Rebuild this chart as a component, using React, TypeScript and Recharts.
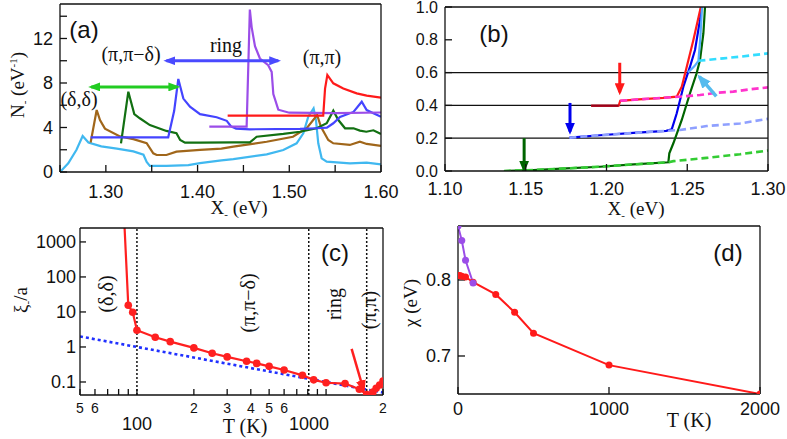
import React from 'react';
import { LineChart, Line, XAxis, YAxis, ReferenceLine } from 'recharts';

type P = [number, number][];

// ---------------- Panel (a): N_(X) spectra ----------------
const A_X_TICKS = [1.25, 1.3, 1.35, 1.4, 1.45, 1.5, 1.55, 1.6];
const A_Y_TICKS = [0, 2, 4, 6, 8, 10, 12, 14];
const aCyan: P = [[1.25, 0], [1.259, 0.78], [1.268, 2.0], [1.2747, 3.24], [1.281, 2.65], [1.295, 2.3], [1.312, 2.1], [1.33, 1.85], [1.341, 1.55], [1.3445, 0.9], [1.348, 0.55], [1.366, 0.55], [1.39, 0.62], [1.4026, 0.8], [1.426, 1.05], [1.439, 1.15], [1.4754, 1.59], [1.4935, 1.98], [1.508, 2.58], [1.5153, 3.48], [1.5207, 4.97], [1.5265, 5.72], [1.5291, 4.67], [1.5316, 2.58], [1.5353, 1.23], [1.5408, 0.93], [1.5662, 0.78], [1.5844, 0.84], [1.6, 0.69]];
const aBrown: P = [[1.2834, 2.65], [1.29, 5.57], [1.2936, 4.67], [1.299, 3.9], [1.3154, 3.2], [1.33, 2.95], [1.3445, 2.6], [1.3517, 1.68], [1.3554, 1.53], [1.366, 1.53], [1.377, 1.83], [1.4027, 1.98], [1.426, 2.1], [1.439, 2.28], [1.4753, 2.72], [1.504, 3.17], [1.519, 3.93], [1.5304, 5.12], [1.5345, 4.07], [1.5425, 2.88], [1.548, 2.58], [1.566, 2.43], [1.577, 2.72], [1.5844, 2.52], [1.6, 2.34]];
const aDarkGreen: P = [[1.3165, 2.58], [1.3245, 7.22], [1.331, 5.2], [1.337, 4.83], [1.348, 4.22], [1.366, 3.69], [1.377, 3.48], [1.381, 2.88], [1.3863, 2.64], [1.4027, 2.64], [1.439, 2.67], [1.457, 2.67], [1.4645, 3.17], [1.4935, 3.42], [1.5117, 3.62], [1.53, 3.93], [1.5408, 4.38], [1.548, 5.51], [1.5535, 4.67], [1.5608, 3.93], [1.57, 3.93], [1.577, 3.72], [1.584, 3.62], [1.5917, 3.75], [1.6, 3.42]];
const aBlue: P = [[1.2834, 3.12], [1.368, 3.12], [1.3745, 5.5], [1.379, 8.36], [1.3845, 6.6], [1.3917, 5.87], [1.4027, 5.2], [1.4208, 4.92], [1.4318, 4.6], [1.4365, 4.1], [1.442, 3.9], [1.457, 3.84], [1.5117, 3.87], [1.53, 3.93], [1.541, 3.98], [1.548, 4.38], [1.5553, 4.95], [1.57, 5.4], [1.579, 6.32], [1.5844, 5.57], [1.5917, 5.28], [1.6, 4.97]];
const aPurple: P = [[1.4128, 4.07], [1.4535, 4.07], [1.457, 14.6], [1.459, 13.0], [1.4626, 11.3], [1.468, 10.2], [1.477, 9.6], [1.4808, 9.0], [1.4826, 7.0], [1.488, 5.6], [1.5, 5.33], [1.55, 5.3], [1.6, 5.35]];
const aRed: P = [[1.4328, 5.06], [1.537, 5.06], [1.539, 7.5], [1.5415, 8.72], [1.548, 7.97], [1.5589, 7.5], [1.5735, 7.07], [1.5844, 6.86], [1.6, 6.68]];
const aGreenSpan: P = [[1.284, 7.65], [1.378, 7.65]];
const aBlueSpan: P = [[1.366, 10.0], [1.488, 10.0]];

// ---------------- Panel (b): integrated curves ----------------
const B_X_TICKS = [1.1, 1.15, 1.2, 1.25, 1.3];
const B_Y_TICKS = [0, 0.2, 0.4, 0.6, 0.8, 1.0];
const B_LEVELS = [0.2, 0.4, 0.6];
const bMaroon: P = [[1.1905, 0.398], [1.2075, 0.398]];
const bRed: P = [[1.1905, 0.398], [1.2075, 0.398], [1.2085, 0.428], [1.22, 0.437], [1.235, 0.446], [1.2435, 0.453], [1.2466, 0.514], [1.2497, 0.636], [1.2538, 0.799], [1.2584, 1.0]];
const bMagenta: P = [[1.2085, 0.428], [1.22, 0.437], [1.235, 0.446], [1.2476, 0.455], [1.2579, 0.463], [1.268, 0.477], [1.2785, 0.484], [1.2889, 0.498], [1.3, 0.51]];
const bBlue: P = [[1.177, 0.203], [1.196, 0.218], [1.2166, 0.232], [1.237, 0.245], [1.2404, 0.254], [1.2435, 0.352], [1.2476, 0.514], [1.2517, 0.636], [1.2548, 0.738], [1.2579, 0.921], [1.2588, 1.0]];
const bLightBlue: P = [[1.177, 0.203], [1.196, 0.218], [1.2166, 0.232], [1.237, 0.245], [1.2455, 0.25], [1.262, 0.274], [1.2827, 0.29], [1.3, 0.318]];
const bSky: P = [[1.2505, 0.6], [1.2545, 0.64], [1.2569, 0.672], [1.258, 0.8], [1.2592, 1.0]];
const bCyan: P = [[1.2569, 0.672], [1.2723, 0.687], [1.2827, 0.697], [1.3, 0.717]];
const bDarkGreen: P = [[1.1365, 0.0], [1.1547, 0.006], [1.1753, 0.016], [1.196, 0.026], [1.2166, 0.04], [1.2383, 0.053], [1.2389, 0.108], [1.2414, 0.169], [1.2466, 0.311], [1.2517, 0.474], [1.2558, 0.596], [1.2579, 0.677], [1.26, 0.84], [1.261, 1.0]];
const bLightGreen: P = [[1.1365, 0.0], [1.1547, 0.006], [1.1753, 0.016], [1.196, 0.026], [1.2166, 0.04], [1.2383, 0.053], [1.2414, 0.06], [1.262, 0.08], [1.2827, 0.102], [1.3, 0.125]];
const bRedArrow: P = [[1.2082, 0.66], [1.2082, 0.48]];
const bBlueArrow: P = [[1.1774, 0.415], [1.1774, 0.24]];
const bGreenArrow: P = [[1.149, 0.2], [1.149, 0.008]];
const bSkyArrow: P = [[1.268, 0.455], [1.2575, 0.575]];

// ---------------- Panel (c): xi/a vs T ----------------
const C_X_TICKS = [50, 60, 70, 80, 90, 100, 200, 300, 400, 500, 600, 700, 800, 900, 1000, 2000];
const C_MINOR_LABELS: Record<number, string> = { 50: '5', 60: '6', 200: '2', 300: '3', 400: '4', 500: '5', 600: '6', 2000: '2' };
const C_MAJOR_LABELS: Record<number, string> = { 100: '100', 1000: '1000' };
const C_Y_TICKS = [0.1, 1, 10, 100, 1000];
const C_BOUNDARIES = [100, 810, 1640];
const cT = [85, 90, 95, 100, 125, 150, 200, 250, 300, 380, 430, 500, 600, 750, 860, 1000, 1260, 1500, 1640, 1770, 1840, 1920, 2000];
const cXi = [10000, 15.5, 9.8, 3.0, 1.9, 1.42, 0.94, 0.66, 0.52, 0.39, 0.34, 0.28, 0.22, 0.155, 0.115, 0.095, 0.09, 0.062, 0.044, 0.052, 0.066, 0.082, 0.107];
const cFitT = [50, 2000];
const cFitXi = [2.0, 0.05];
const cArrow: P = [[1365, 0.88], [1580, 0.058]];

// ---------------- Panel (d): chi vs T ----------------
const D_X_TICKS = [0, 1000, 2000];
const D_Y_TICKS = [0.7, 0.8];
const dRedT = [0, 12, 25, 50, 100, 250, 375, 500, 1000, 2000];
const dRedChi = [0.806, 0.806, 0.805, 0.804, 0.797, 0.781, 0.7575, 0.73, 0.688, 0.65];
const dPurpleT = [0, 25, 50, 100];
const dPurpleChi = [0.871, 0.852, 0.826, 0.796];

// ---------------- helpers ----------------
const SANS = '"Liberation Sans", Arial, Helvetica, sans-serif';
const SERIF = '"Liberation Serif", "Times New Roman", Times, serif';
const INK = '#111111';
const AX = { stroke: INK, strokeWidth: 1.3 };
const TICK = { fontFamily: SANS, fontSize: 18, fill: INK };
const TICK_B_Y = { fontFamily: SANS, fontSize: 16, fill: INK };

const toPts = (a: P) => a.map(([x, y]) => ({ x, y }));
const zip = (xs: number[], ys: number[]) => xs.map((x, i) => ({ x, y: ys[i] }));

function marker(id: string, color: string, len = 12, w = 9) {
  return (
    <marker key={id} id={id} markerUnits="userSpaceOnUse" markerWidth={len} markerHeight={w}
      viewBox={`0 0 ${len} ${w}`} refX={len - 3} refY={w / 2} orient="auto-start-reverse">
      <path d={`M0,0 L${len},${w / 2} L0,${w} Z`} fill={color} />
    </marker>
  );
}

function curve(key: string, data: { x: number; y: number }[], color: string, width = 2.2, extra: any = {}) {
  return (
    <Line key={key} data={data} dataKey="y" type="linear" stroke={color} strokeWidth={width}
      dot={false} activeDot={false} isAnimationActive={false} legendType="none" {...extra} />
  );
}

function cTick(props: any) {
  const { x, y, payload } = props;
  const v = payload.value;
  if (C_MINOR_LABELS[v]) {
    return <text x={x} y={y} dy={10} textAnchor="middle" fontFamily={SANS} fontSize={14} fill={INK}>{C_MINOR_LABELS[v]}</text>;
  }
  if (C_MAJOR_LABELS[v]) {
    return <text x={x} y={y} dy={27} dx={v === 1000 ? -17 : 0} textAnchor="middle" fontFamily={SANS} fontSize={18} fill={INK}>{C_MAJOR_LABELS[v]}</text>;
  }
  return <g />;
}

const serifText = (x: number, y: number, children: React.ReactNode, size = 20, rotate = false) =>
  rotate ? (
    <text x={-y} y={x} transform="rotate(-90)" textAnchor="middle" fontFamily={SERIF} fontSize={size} fill={INK}>{children}</text>
  ) : (
    <text x={x} y={y} textAnchor="middle" fontFamily={SERIF} fontSize={size} fill={INK}>{children}</text>
  );

const panelTag = (x: number, y: number, s: string) => (
  <text x={x} y={y} textAnchor="middle" fontFamily={SANS} fontSize={24} fill={INK}>{s}</text>
);

const sub = (s: string) => <tspan fontSize={11} dy={4}>{s}</tspan>;

// ---------------- panels ----------------
function PanelA() {
  return (
    <LineChart width={400} height={225} margin={{ top: 3, right: 18, bottom: 0, left: 0 }}>
      <defs>
        {marker('mkAg', '#22cc22')}
        {marker('mkAb', '#4a4aff')}
      </defs>
      <XAxis dataKey="x" type="number" domain={[1.25, 1.6]} allowDataOverflow ticks={A_X_TICKS} interval={0}
        tickFormatter={(v: number) => (Math.round(v * 100) % 10 === 0 ? v.toFixed(2) : '')}
        height={53} tickSize={-7} tickMargin={20} axisLine={AX} tickLine={AX} tick={TICK} />
      <XAxis xAxisId="top" orientation="top" type="number" domain={[1.25, 1.6]} allowDataOverflow ticks={A_X_TICKS}
        interval={0} height={1} tickSize={-7} tick={false} axisLine={AX} tickLine={AX} />
      <YAxis type="number" domain={[0, 15.1]} allowDataOverflow ticks={A_Y_TICKS} interval={0}
        tickFormatter={(v: number) => (v % 4 === 0 ? String(v) : '')}
        width={60} tickSize={-7} tickMargin={14} axisLine={AX} tickLine={AX} tick={TICK} />
      <YAxis yAxisId="right" orientation="right" type="number" domain={[0, 15.1]} allowDataOverflow ticks={A_Y_TICKS}
        interval={0} width={1} tickSize={-7} tick={false} axisLine={AX} tickLine={AX} />
      {curve('cy', toPts(aCyan), '#40b8f0')}
      {curve('br', toPts(aBrown), '#a0661a')}
      {curve('dg', toPts(aDarkGreen), '#127012')}
      {curve('bl', toPts(aBlue), '#4444ff')}
      {curve('pu', toPts(aPurple), '#9b4de8')}
      {curve('rd', toPts(aRed), '#ff1a1a')}
      {curve('ga', toPts(aGreenSpan), '#22cc22', 3, { markerStart: 'url(#mkAg)', markerEnd: 'url(#mkAg)' })}
      {curve('ba', toPts(aBlueSpan), '#4a4aff', 3, { markerStart: 'url(#mkAb)', markerEnd: 'url(#mkAb)' })}
      {panelTag(84, 38, '(a)')}
      {serifText(79, 106, '(δ,δ)')}
      {serifText(131, 61, '(π,π−δ)')}
      {serifText(226, 52, 'ring')}
      {serifText(322, 64, '(π,π)')}
      {serifText(239, 214, <>X{sub('-')}<tspan dy={-4}> (eV)</tspan></>, 19)}
      <text x={-85} y={24} transform="rotate(-90)" textAnchor="middle" fontFamily={SERIF} fontSize={19} fill={INK}>
        N{sub('-')}<tspan dy={-4}> (eV</tspan><tspan fontSize={11} dy={-7}>-1</tspan><tspan dy={7}>)</tspan>
      </text>
    </LineChart>
  );
}

function PanelB() {
  return (
    <LineChart width={387} height={225} margin={{ top: 6, right: 18, bottom: 0, left: 0 }}>
      <defs>
        {marker('mkBr', '#ff1a1a', 12, 10)}
        {marker('mkBb', '#0000ee', 12, 10)}
        {marker('mkBg', '#006400', 12, 10)}
        {marker('mkBs', '#55bbee', 14, 11)}
      </defs>
      <XAxis dataKey="x" type="number" domain={[1.1, 1.3]} allowDataOverflow ticks={B_X_TICKS} interval={0}
        tickFormatter={(v: number) => v.toFixed(2)}
        height={54} tickSize={-7} tickMargin={18} axisLine={AX} tickLine={AX} tick={TICK} />
      <XAxis xAxisId="top" orientation="top" type="number" domain={[1.1, 1.3]} allowDataOverflow ticks={B_X_TICKS}
        interval={0} height={1} tickSize={-7} tick={false} axisLine={AX} tickLine={AX} />
      <YAxis type="number" domain={[0, 1]} allowDataOverflow ticks={B_Y_TICKS} interval={0}
        tickFormatter={(v: number) => v.toFixed(1)}
        width={45} tickSize={-7} tickMargin={14} axisLine={AX} tickLine={AX} tick={TICK_B_Y} />
      <YAxis yAxisId="right" orientation="right" type="number" domain={[0, 1]} allowDataOverflow ticks={B_Y_TICKS}
        interval={0} width={1} tickSize={-7} tick={false} axisLine={AX} tickLine={AX} />
      {B_LEVELS.map((v) => (
        <ReferenceLine key={'lv' + v} y={v} stroke={INK} strokeWidth={1.3} />
      ))}
      {curve('dg', toPts(bDarkGreen), '#006400')}
      {curve('lg', toPts(bLightGreen), '#33cc33', 2.6, { strokeDasharray: '7 4' })}
      {curve('bl', toPts(bBlue), '#0000ee')}
      {curve('lb', toPts(bLightBlue), '#8fa0ff', 2.6, { strokeDasharray: '7 4' })}
      {curve('rd', toPts(bRed), '#ff1a1a')}
      {curve('mr', toPts(bMaroon), '#99001a')}
      {curve('mg', toPts(bMagenta), '#ff33cc', 2.6, { strokeDasharray: '7 4' })}
      {curve('sk', toPts(bSky), '#55aaff')}
      {curve('cy', toPts(bCyan), '#33ddff', 2.6, { strokeDasharray: '7 4' })}
      {curve('ar', toPts(bRedArrow), '#ff1a1a', 3, { markerEnd: 'url(#mkBr)' })}
      {curve('ab', toPts(bBlueArrow), '#0000ee', 3, { markerEnd: 'url(#mkBb)' })}
      {curve('ag', toPts(bGreenArrow), '#006400', 3, { markerEnd: 'url(#mkBg)' })}
      {curve('as', toPts(bSkyArrow), '#55bbee', 3.5, { markerEnd: 'url(#mkBs)' })}
      {panelTag(94, 42, '(b)')}
      {serifText(236, 215, <>X{sub('-')}<tspan dy={-4}> (eV)</tspan></>, 19)}
    </LineChart>
  );
}

function PanelC() {
  return (
    <LineChart width={400} height={224} margin={{ top: 12, right: 16, bottom: 0, left: 0 }}>
      <defs>{marker('mkCr', '#ff2020', 13, 10)}</defs>
      <XAxis dataKey="x" type="number" scale="log" domain={[50, 2000]} allowDataOverflow ticks={C_X_TICKS} interval={0}
        height={44} tickSize={-6} tickMargin={14} axisLine={AX} tickLine={AX} tick={cTick} />
      <XAxis xAxisId="top" orientation="top" type="number" scale="log" domain={[50, 2000]} allowDataOverflow ticks={[100, 1000]}
        interval={0} height={1} tickLine={false} tick={false} axisLine={AX} />
      <YAxis type="number" scale="log" domain={[0.0425, 2500]} allowDataOverflow ticks={C_Y_TICKS} interval={0}
        tickFormatter={(v: number) => String(v)}
        width={80} tickSize={-6} tickMargin={10} axisLine={AX} tickLine={AX} tick={TICK} />
      <YAxis yAxisId="right" orientation="right" type="number" scale="log" domain={[0.0425, 2500]} allowDataOverflow ticks={C_Y_TICKS}
        interval={0} width={1} tickSize={-7} tick={false} axisLine={AX} tickLine={AX} />
      {C_BOUNDARIES.map((v) => (
        <ReferenceLine key={'bd' + v} x={v} stroke={INK} strokeWidth={1.5} strokeDasharray="2 2" />
      ))}
      {curve('fit', zip(cFitT, cFitXi), '#2030ff', 2.6, { strokeDasharray: '3 3' })}
      {curve('xi', zip(cT, cXi), '#ff2020', 2.2, { dot: { r: 3.8, fill: '#ff2020', stroke: '#ff2020', strokeWidth: 0 } })}
      {curve('arr', toPts(cArrow), '#ff2020', 2.5, { markerEnd: 'url(#mkCr)' })}
      {panelTag(335, 46, '(c)')}
      {serifText(113, 79, '(δ,δ)', 20, true)}
      {serifText(255, 88, '(π,π−δ)', 20, true)}
      {serifText(341, 89, 'ring', 20, true)}
      {serifText(376, 95, '(π,π)', 20, true)}
      {serifText(245, 218, 'T (K)', 20)}
      <text x={-85} y={27} transform="rotate(-90)" textAnchor="middle" fontFamily={SERIF} fontSize={19} fill={INK}>
        ξ{sub('-')}<tspan dy={-4}>/a</tspan>
      </text>
    </LineChart>
  );
}

function PanelD() {
  return (
    <LineChart width={387} height={224} margin={{ top: 10, right: 26, bottom: 0, left: 0 }}>
      <XAxis dataKey="x" type="number" domain={[0, 2000]} allowDataOverflow ticks={D_X_TICKS} interval={0}
        height={45} tickSize={-7} tickMargin={15} axisLine={AX} tickLine={AX} tick={TICK} />
      <XAxis xAxisId="top" orientation="top" type="number" domain={[0, 2000]} allowDataOverflow ticks={D_X_TICKS}
        interval={0} height={1} tickSize={-7} tick={false} axisLine={AX} tickLine={AX} />
      <YAxis type="number" domain={[0.65, 0.871]} allowDataOverflow ticks={D_Y_TICKS} interval={0}
        tickFormatter={(v: number) => v.toFixed(1)}
        width={58} tickSize={-7} tickMargin={14} axisLine={AX} tickLine={AX} tick={TICK} />
      <YAxis yAxisId="right" orientation="right" type="number" domain={[0.65, 0.871]} allowDataOverflow ticks={D_Y_TICKS}
        interval={0} width={1} tickSize={-7} tick={false} axisLine={AX} tickLine={AX} />
      {curve('red', zip(dRedT, dRedChi), '#ff1a1a', 2, { dot: { r: 3.5, fill: '#ff1a1a', stroke: '#ff1a1a', strokeWidth: 0 } })}
      {curve('pur', zip(dPurpleT, dPurpleChi), '#9b4de8', 2, { dot: { r: 3.5, fill: '#9b4de8', stroke: '#9b4de8', strokeWidth: 0 } })}
      {panelTag(328, 46, '(d)')}
      {serifText(289, 212, 'T (K)', 20)}
      <text x={-88} y={17} transform="rotate(-90)" textAnchor="middle" fontFamily={SERIF} fontSize={19} fill={INK}>
        χ (eV)
      </text>
    </LineChart>
  );
}

export default function App() {
  return (
    <div style={{ position: 'absolute', left: 0, top: 0, width: 787, height: 439, background: '#fff', overflow: 'hidden' }}>
      <div style={{ position: 'absolute', left: 0, top: 0 }}><PanelA /></div>
      <div style={{ position: 'absolute', left: 400, top: 0 }}><PanelB /></div>
      <div style={{ position: 'absolute', left: 0, top: 215 }}><PanelC /></div>
      <div style={{ position: 'absolute', left: 400, top: 215 }}><PanelD /></div>
    </div>
  );
}
